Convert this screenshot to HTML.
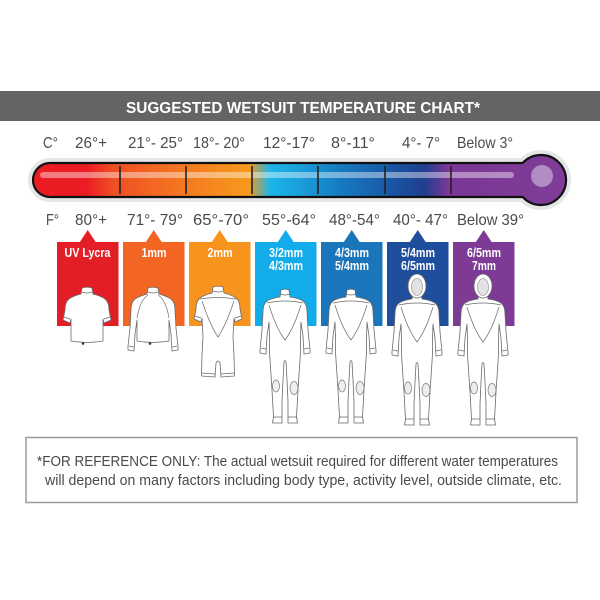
<!DOCTYPE html>
<html>
<head>
<meta charset="utf-8">
<style>
html,body{margin:0;padding:0;background:#fff;}
svg{display:block;}
text{font-family:"Liberation Sans",sans-serif;}
</style>
</head>
<body>
<svg width="600" height="600" viewBox="0 0 600 600" xmlns="http://www.w3.org/2000/svg">
<defs>
<linearGradient id="tg" gradientUnits="userSpaceOnUse" x1="33" y1="0" x2="566" y2="0">
<stop offset="0" stop-color="#ec1c24"/>
<stop offset="0.10" stop-color="#ec1c24"/>
<stop offset="0.15" stop-color="#f04e24"/>
<stop offset="0.22" stop-color="#f26522"/>
<stop offset="0.33" stop-color="#f5861f"/>
<stop offset="0.405" stop-color="#f7991c"/>
<stop offset="0.445" stop-color="#1cb5ea"/>
<stop offset="0.50" stop-color="#1a9fdb"/>
<stop offset="0.58" stop-color="#1679c0"/>
<stop offset="0.69" stop-color="#1a4f9e"/>
<stop offset="0.735" stop-color="#213f90"/>
<stop offset="0.78" stop-color="#7b3796"/>
<stop offset="1" stop-color="#7f3c97"/>
</linearGradient>
<g id="full">
<path d="M -4,0 Q 0,-1.5 4,0 L 5,7 Q 13,8 18,11 Q 22,14 22,22 L 23,40 L 25,60 L 25,63 L 19,64 L 18,46 L 16,32 L 15.5,48 L 15.5,62 L 14,85 L 13,100 L 11.5,127 L 12.5,133 L 3,133 L 3,112 L 2,90 L 1,72 Q 0,69 -1,72 L -2,90 L -3,112 L -3,133 L -12.5,133 L -11.5,127 L -13,100 L -14,85 L -15.5,62 L -15.5,48 L -16,32 L -18,46 L -19,64 L -25,63 L -25,60 L -23,40 L -22,22 Q -22,14 -18,11 Q -13,8 -5,7 Z" fill="#fff" stroke="#6a6a6a" stroke-width="0.8" stroke-linejoin="round"/>
<path d="M -5,4 Q 0,6 5,4 M -18,13 Q 0,9 18,13 M -16,15 Q -9,38 0,50 Q 9,38 16,15 M -24,58 L -19,59 M 24,58 L 19,59 M -12,127 L -3,127 M 12,127 L 3,127" fill="none" stroke="#6a6a6a" stroke-width="0.7"/>
<ellipse cx="-9" cy="96" rx="3.5" ry="6" fill="#eee" stroke="#777" stroke-width="0.7"/>
<ellipse cx="9" cy="98" rx="4" ry="6.5" fill="#eee" stroke="#777" stroke-width="0.7"/>
</g>
<g id="hood">
<ellipse cx="0" cy="-6" rx="9" ry="12" fill="#fff" stroke="#6a6a6a" stroke-width="0.8"/>
<ellipse cx="0" cy="-5" rx="5.5" ry="8.5" fill="#e2e2e2" stroke="#888" stroke-width="0.6"/>
</g>
</defs>

<!-- header -->
<rect x="0" y="91" width="600" height="30" fill="#636466"/>
<text x="126" y="113" font-size="15.5" font-weight="bold" fill="#fff" textLength="354" lengthAdjust="spacingAndGlyphs">SUGGESTED WETSUIT TEMPERATURE CHART*</text>

<!-- C row -->
<g font-size="16" fill="#4a4a4a">
<text x="43" y="148" textLength="15" lengthAdjust="spacingAndGlyphs">C°</text>
<text x="75" y="148" textLength="32" lengthAdjust="spacingAndGlyphs">26°+</text>
<text x="128" y="148" textLength="55" lengthAdjust="spacingAndGlyphs">21°- 25°</text>
<text x="193" y="148" textLength="52" lengthAdjust="spacingAndGlyphs">18°- 20°</text>
<text x="263" y="148" textLength="52" lengthAdjust="spacingAndGlyphs">12°-17°</text>
<text x="331" y="148" textLength="44" lengthAdjust="spacingAndGlyphs">8°-11°</text>
<text x="402" y="148" textLength="38" lengthAdjust="spacingAndGlyphs">4°- 7°</text>
<text x="457" y="148" textLength="56" lengthAdjust="spacingAndGlyphs">Below 3°</text>
</g>

<!-- thermometer -->
<path d="M 50,163 L 522.7,163 A 25,25 0 1 1 522.7,197 L 50,197 A 17,17 0 0 1 50,163 Z" fill="none" stroke="#e6e6e6" stroke-width="10" stroke-linejoin="round"/>
<path d="M 50,163 L 522.7,163 A 25,25 0 1 1 522.7,197 L 50,197 A 17,17 0 0 1 50,163 Z" fill="url(#tg)"/>
<rect x="40" y="172" width="474" height="6" rx="3" fill="#fff" opacity="0.42"/>
<circle cx="542" cy="176" r="11" fill="#b28dc4"/>
<g stroke="#222" stroke-width="1.6">
<line x1="120" y1="166" x2="120" y2="194"/>
<line x1="186" y1="166" x2="186" y2="194"/>
<line x1="252" y1="166" x2="252" y2="194"/>
<line x1="318" y1="166" x2="318" y2="194"/>
<line x1="385" y1="166" x2="385" y2="194"/>
<line x1="451" y1="166" x2="451" y2="194"/>
</g>
<path d="M 50,163 L 522.7,163 A 25,25 0 1 1 522.7,197 L 50,197 A 17,17 0 0 1 50,163 Z" fill="none" stroke="#111" stroke-width="2.2" stroke-linejoin="round"/>

<!-- F row -->
<g font-size="16" fill="#4a4a4a">
<text x="46" y="225" textLength="13" lengthAdjust="spacingAndGlyphs">F°</text>
<text x="75" y="225" textLength="32" lengthAdjust="spacingAndGlyphs">80°+</text>
<text x="127" y="225" textLength="56" lengthAdjust="spacingAndGlyphs">71°- 79°</text>
<text x="193" y="225" textLength="56" lengthAdjust="spacingAndGlyphs">65°-70°</text>
<text x="262" y="225" textLength="54" lengthAdjust="spacingAndGlyphs">55°-64°</text>
<text x="329" y="225" textLength="51" lengthAdjust="spacingAndGlyphs">48°-54°</text>
<text x="393" y="225" textLength="55" lengthAdjust="spacingAndGlyphs">40°- 47°</text>
<text x="457" y="225" textLength="67" lengthAdjust="spacingAndGlyphs">Below 39°</text>
</g>

<!-- panels -->
<g>
<rect x="57" y="242" width="61.5" height="84" fill="#e41e26"/>
<polygon points="79.5,242.5 87.75,230 96,242.5" fill="#e41e26"/>
<rect x="123" y="242" width="61.5" height="84" fill="#f26522"/>
<polygon points="145.5,242.5 153.75,230 162,242.5" fill="#f26522"/>
<rect x="189" y="242" width="61.5" height="84" fill="#f7941d"/>
<polygon points="211.5,242.5 219.75,230 228,242.5" fill="#f7941d"/>
<rect x="255" y="242" width="61.5" height="84" fill="#12acea"/>
<polygon points="277.5,242.5 285.75,230 294,242.5" fill="#12acea"/>
<rect x="321" y="242" width="61.5" height="84" fill="#1a75bb"/>
<polygon points="343.5,242.5 351.75,230 360,242.5" fill="#1a75bb"/>
<rect x="387" y="242" width="61.5" height="84" fill="#1f4e9c"/>
<polygon points="409.5,242.5 417.75,230 426,242.5" fill="#1f4e9c"/>
<rect x="453" y="242" width="61.5" height="84" fill="#7e3b96"/>
<polygon points="475.5,242.5 483.75,230 492,242.5" fill="#7e3b96"/>
</g>
<g font-size="12.5" font-weight="bold" fill="#fff" text-anchor="middle">
<text x="87.5" y="257" textLength="46" lengthAdjust="spacingAndGlyphs">UV Lycra</text>
<text x="154" y="257" textLength="25" lengthAdjust="spacingAndGlyphs">1mm</text>
<text x="220" y="257" textLength="25" lengthAdjust="spacingAndGlyphs">2mm</text>
<text x="286" y="257" textLength="34" lengthAdjust="spacingAndGlyphs">3/2mm</text>
<text x="286" y="270" textLength="34" lengthAdjust="spacingAndGlyphs">4/3mm</text>
<text x="352" y="257" textLength="34" lengthAdjust="spacingAndGlyphs">4/3mm</text>
<text x="352" y="270" textLength="34" lengthAdjust="spacingAndGlyphs">5/4mm</text>
<text x="418" y="257" textLength="34" lengthAdjust="spacingAndGlyphs">5/4mm</text>
<text x="418" y="270" textLength="34" lengthAdjust="spacingAndGlyphs">6/5mm</text>
<text x="484" y="257" textLength="34" lengthAdjust="spacingAndGlyphs">6/5mm</text>
<text x="484" y="270" textLength="24" lengthAdjust="spacingAndGlyphs">7mm</text>
</g>

<!-- figures -->
<!-- UV Lycra shirt -->
<g transform="translate(87,288)">
<path d="M -5,0 Q 0,-1.5 5,0 L 6,6 Q 14,8 18,11 Q 22,14 22,22 L 24,32 L 17,35 L 16,31 L 16,53 Q 0,56 -16,53 L -16,31 L -17,35 L -24,32 L -22,22 Q -22,14 -18,11 Q -14,8 -6,6 Z" fill="#fff" stroke="#6a6a6a" stroke-width="0.8" stroke-linejoin="round"/>
<path d="M -5,4 Q 0,6 5,4 M -23,29 L -17,31 M 23,29 L 17,31" fill="none" stroke="#6a6a6a" stroke-width="0.7"/>
<circle cx="-4" cy="55.5" r="1.3" fill="#333"/>
</g>
<!-- 1mm long sleeve -->
<g transform="translate(153,288)">
<path d="M -5,0 Q 0,-1.5 5,0 L 6,6 Q 13,8 18,11 Q 22,14 22,22 L 23,40 L 25,58 L 25,62 L 19,63 L 18,46 L 16,32 L 16,53 Q 0,56 -16,53 L -16,32 L -18,46 L -19,63 L -25,62 L -25,58 L -23,40 L -22,22 Q -22,14 -18,11 Q -13,8 -6,6 Z" fill="#fff" stroke="#6a6a6a" stroke-width="0.8" stroke-linejoin="round"/>
<path d="M -5,4 Q 0,6 5,4 M -5,7 Q -13,12 -16,30 M 5,7 Q 13,12 16,30 M -24,58 L -19,59 M 24,58 L 19,59" fill="none" stroke="#6a6a6a" stroke-width="0.7"/>
<circle cx="-3" cy="55.5" r="1.3" fill="#333"/>
</g>
<!-- 2mm springsuit -->
<g transform="translate(218,287)">
<path d="M -5,0 Q 0,-1.5 5,0 L 6,6 Q 14,8 18,11 Q 22,14 22,22 L 24,32 L 17,35 L 16,31 L 15,50 L 16,68 L 16.5,89 L 3,90 L 2,76 Q 0,72 -2,76 L -3,90 L -16.5,89 L -16,68 L -15,50 L -16,31 L -17,35 L -24,32 L -22,22 Q -22,14 -18,11 Q -14,8 -6,6 Z" fill="#fff" stroke="#6a6a6a" stroke-width="0.8" stroke-linejoin="round"/>
<path d="M -5,4 Q 0,6 5,4 M -18,12 Q 0,9 18,12 M -16,14 Q -8,38 0,50 Q 8,38 16,14 M -23,29 L -17,31 M 23,29 L 17,31 M -16,86 L -3,87 M 16,86 L 3,87" fill="none" stroke="#6a6a6a" stroke-width="0.7"/>
</g>
<!-- full suits -->
<use href="#full" transform="translate(285,290)"/>
<use href="#full" transform="translate(351,290)"/>
<g transform="translate(417,292)"><use href="#full"/><use href="#hood"/></g>
<g transform="translate(483,292)"><use href="#full"/><use href="#hood"/></g>

<!-- footnote box -->
<rect x="26" y="437.5" width="551" height="65" fill="#fff" stroke="#9c9c9c" stroke-width="1.5"/>
<g font-size="15" fill="#4a4a4a">
<text x="37" y="466" textLength="521" lengthAdjust="spacingAndGlyphs">*FOR REFERENCE ONLY: The actual wetsuit required for different water temperatures</text>
<text x="45" y="485" textLength="517" lengthAdjust="spacingAndGlyphs">will depend on many factors including body type, activity level, outside climate, etc.</text>
</g>
</svg>
</body>
</html>
